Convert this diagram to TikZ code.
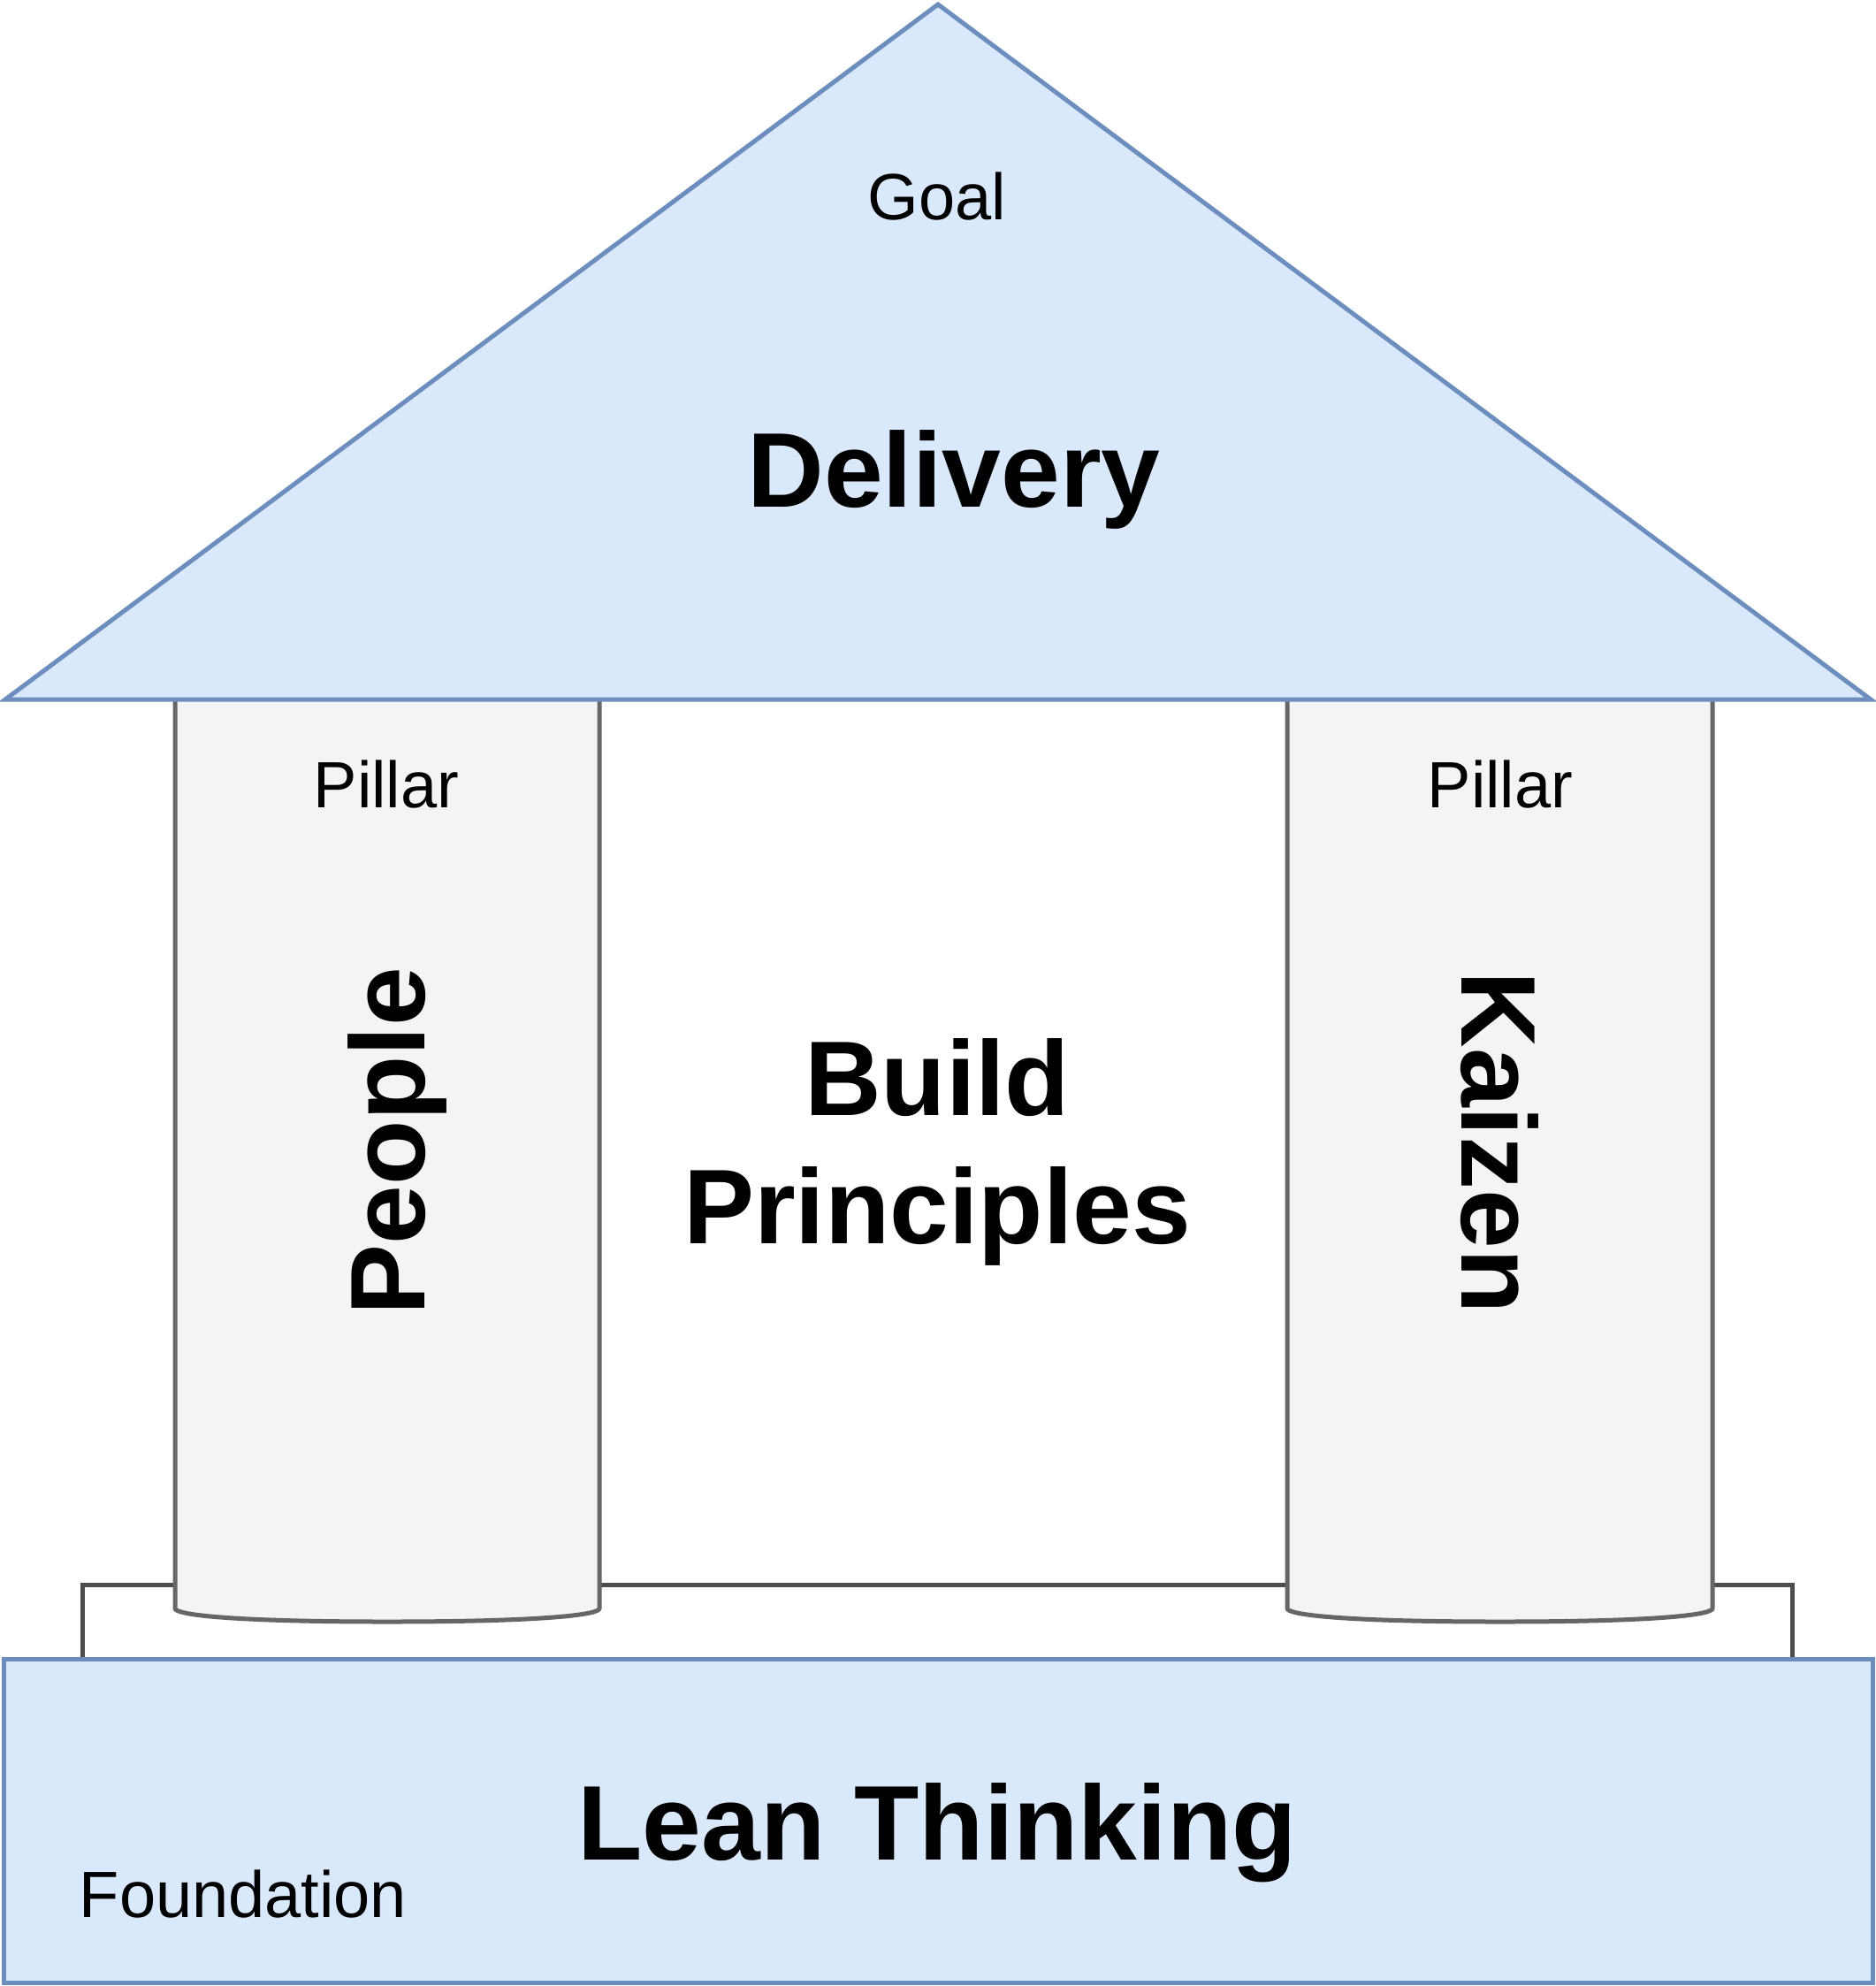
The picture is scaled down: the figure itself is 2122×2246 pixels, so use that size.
\documentclass[tikz,border=0pt]{standalone}
\usepackage{fontspec}
\setmainfont{Liberation Sans}
\definecolor{bluefill}{HTML}{DAE8FC}
\definecolor{bluedraw}{HTML}{6C8EBF}
\definecolor{grayfill}{HTML}{F4F4F4}
\definecolor{graydraw}{HTML}{666666}
\definecolor{backdraw}{HTML}{4D4D4D}
\tikzset{
  bluepart/.style={fill=bluefill,draw=bluedraw,line width=5pt},
  pillarpart/.style={fill=grayfill,draw=graydraw,line width=5pt},
  backpart/.style={fill=white,draw=backdraw,line width=5pt},
  smalltxt/.style={inner sep=0pt,anchor=base,font=\fontsize{74}{88}\selectfont},
  bigtxt/.style={inner sep=0pt,anchor=base,font=\fontsize{120}{145}\selectfont\bfseries},
}
\begin{document}
\begin{tikzpicture}[x=1pt,y=-1pt]
\useasboundingbox (0,0) rectangle (2122,2246);
% back plinth
\draw[backpart] (93,1876) -- (93,1792) -- (2027,1792) -- (2027,1876);
% pillars
\draw[pillarpart] (198,791) -- (198,1819) .. controls (198,1826) and (260,1834) .. (438,1834)
  .. controls (616,1834) and (678,1826) .. (678,1819) -- (678,791);
\draw[pillarpart] (1456,791) -- (1456,1819) .. controls (1456,1826) and (1518,1834) .. (1697,1834)
  .. controls (1876,1834) and (1937,1826) .. (1937,1819) -- (1937,791);
% roof
\draw[bluepart] (6,791) -- (1061,5) -- (2116,791) -- cycle;
% foundation
\draw[bluepart] (4,1876) rectangle (2118,2242);
% texts
\node[smalltxt] (goal) at (1060,248) {Goal};
\node[bigtxt] (delivery) at (1079,573) {Delivery};
\node[smalltxt] (pillarL) at (437,913) {Pillar};
\node[smalltxt] (pillarR) at (1697,913) {Pillar};
\node[bigtxt,rotate=90] (people) at (480,1291) {People};
\node[bigtxt,rotate=-90] (kaizen) at (1653,1292) {Kaizen};
\node[bigtxt] (build) at (1060,1261) {Build};
\node[bigtxt] (principles) at (1060,1406) {Principles};
\node[bigtxt] (lean) at (1060,2103) {Lean Thinking};
\node[smalltxt] (foundation) at (275,2168) {Foundation};
\end{tikzpicture}
\end{document}
